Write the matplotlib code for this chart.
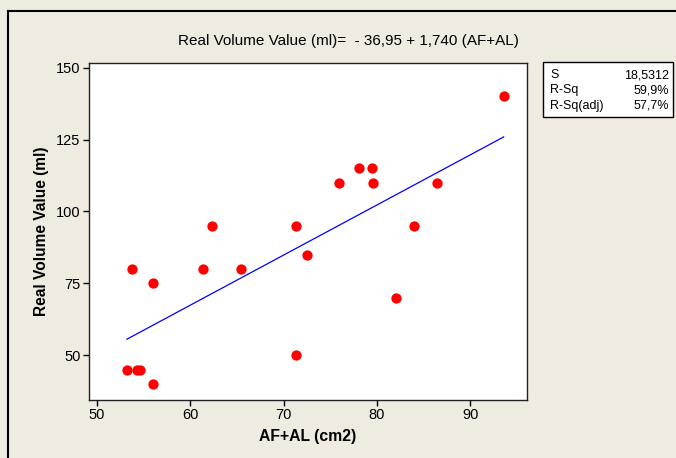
import matplotlib
matplotlib.use("Agg")
import matplotlib.pyplot as plt
from matplotlib.patches import Rectangle
from matplotlib.lines import Line2D
import numpy as np

plt.rcParams['font.family'] = ['Liberation Sans', 'DejaVu Sans']

# Data
af_al = [53.2, 53.7, 54.3, 54.6, 56.0, 56.0, 61.4, 62.3, 65.4, 71.3,
         71.3, 72.5, 75.95, 78.1, 79.5, 79.6, 82.1, 84.0, 86.4, 93.6]
volume = [45, 80, 45, 45, 75, 40, 80, 95, 80, 95,
          50, 85, 110, 115, 115, 110, 70, 95, 110, 140]
intercept = -36.95
slope = 1.740
xticks = [50, 60, 70, 80, 90]
yticks = [50, 75, 100, 125, 150]
stats_labels = ["S", "R-Sq", "R-Sq(adj)"]
stats_values = ["18,5312", "59,9%", "57,7%"]

W, H = 676, 458
bg = '#EFEBE1'
fig = plt.figure(figsize=(W / 100, H / 100), dpi=100, facecolor=bg)

# outer frame (left and top edges visible)
fig.add_artist(Line2D([8 / W, 8 / W], [0, 1 - 10.5 / H], transform=fig.transFigure,
                      color='black', lw=1.5))
fig.add_artist(Line2D([8 / W, 1.01], [1 - 10.5 / H, 1 - 10.5 / H], transform=fig.transFigure,
                      color='black', lw=1.5))

left, right, top, bottom = 89, 527, 63, 400
ax = fig.add_axes([left / W, (H - bottom) / H, (right - left) / W, (bottom - top) / H])
ax.set_facecolor('white')

ax.scatter(af_al, volume, s=55, color='#FF0000', zorder=3, linewidths=0)
xs = np.array([min(af_al), max(af_al)])
ax.plot(xs, intercept + slope * xs, color='#0000FF', lw=0.9, zorder=2)

ax.set_xlim(49.14, 96.1)
ax.set_ylim(34.5, 151.6)
ax.set_xticks(xticks)
ax.set_yticks(yticks)
ax.tick_params(direction='out', length=4, width=1, labelsize=10.5, colors='black', pad=2)
for sp in ax.spines.values():
    sp.set_linewidth(1)
    sp.set_color('#222222')

ax.set_xlabel('AF+AL (cm2)', fontsize=11.3, fontweight='bold', labelpad=5)
ax.set_ylabel('Real Volume Value (ml)', fontsize=11.2, fontweight='bold', labelpad=5)

fig.text(348 / W, 1 - 41 / H, 'Real Volume Value (ml)=  - 36,95 + 1,740 (AF+AL)',
         ha='center', va='center', fontsize=11)

# stats box
bx0, bx1, by0, by1 = 542.5, 672.5, 61.7, 116.7
fig.add_artist(Rectangle((bx0 / W, 1 - by1 / H), (bx1 - bx0) / W, (by1 - by0) / H,
                         transform=fig.transFigure, facecolor='white',
                         edgecolor='black', lw=1))
rows_y = [75.5, 90.5, 105.5]
for lab, val, ry in zip(stats_labels, stats_values, rows_y):
    fig.text(550 / W, 1 - ry / H, lab, ha='left', va='center', fontsize=9)
    fig.text(669 / W, 1 - ry / H, val, ha='right', va='center', fontsize=9)

fig.savefig('out.png', dpi=100, facecolor=bg)
